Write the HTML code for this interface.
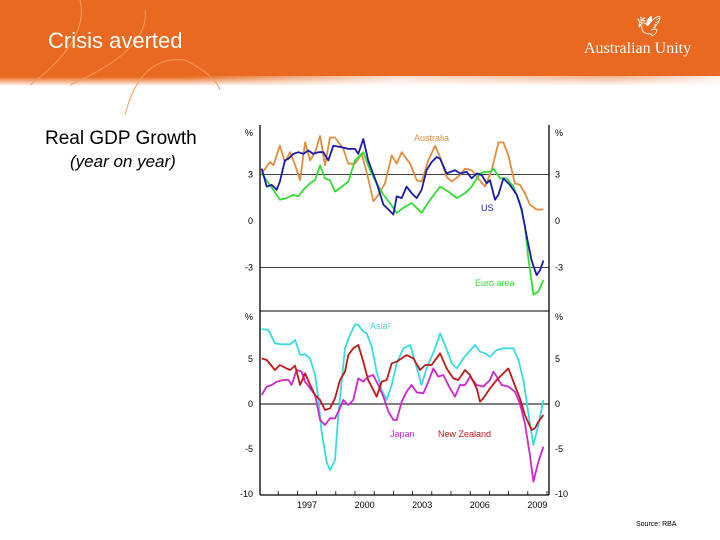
<!DOCTYPE html>
<html><head><meta charset="utf-8"><style>
body{margin:0;width:720px;height:540px;overflow:hidden;background:#fff;font-family:"Liberation Sans",sans-serif;position:relative}
.t{position:absolute;white-space:nowrap}
</style></head><body>
<div style="position:absolute;left:0;top:0;width:720px;height:86px;background:linear-gradient(to bottom,#E8691F 0,#E8691F 77px,rgba(232,105,31,0) 86px)"></div>
<div style="position:absolute;left:0;top:76px;width:720px;height:10px;background:linear-gradient(to right,rgba(255,255,255,0) 0,rgba(255,255,255,0) 25%,rgba(255,255,255,0.8) 55%,rgba(255,255,255,0.5) 85%,rgba(255,255,255,0.9) 100%)"></div>
<svg width="720" height="120" style="position:absolute;left:0;top:0">
<path d="M30,85 Q90,40 80,0" stroke="#f39a5e" stroke-width="1" fill="none"/>
<path d="M70,85 Q150,50 145,10" stroke="#f39a5e" stroke-width="1" fill="none"/>
<path d="M125,115 Q140,55 185,60 Q215,75 220,90" stroke="#f39a5e" stroke-width="1" fill="none"/>
</svg>
<div class="t" style="left:48px;top:28px;font-size:22px;color:#fff">Crisis averted</div>
<div class="t" style="left:636px;top:14px;font-size:20px;color:#fff">🕊︎</div>
<div class="t" style="left:584px;top:40px;font-family:'Liberation Serif',serif;font-size:16px;color:#fff">Australian Unity</div>
<div class="t" style="left:45px;top:128px;font-size:19px;color:#000">Real GDP Growth</div>
<div class="t" style="left:70px;top:152px;font-size:17px;font-style:italic;color:#000">(year on year)</div>
<div class="t" style="left:636px;top:521px;font-size:7px;color:#000">Source: RBA</div>
<svg id="chart" width="720" height="540" style="position:absolute;left:0;top:0" font-family="Liberation Sans, sans-serif"></svg>
<script>
const yearLabels=[1997,2000,2003,2006,2009];
const topTicks=[3,0,-3];
const botTicks=[5,0,-5,-10];
const ausT=[1994.64,1995.07,1995.25,1995.59,1995.85,1996.12,1996.38,1996.64,1996.9,1997.16,1997.42,1997.68,1997.94,1998.2,1998.46,1998.89,1999.15,1999.5,1999.85,2000.19,2000.46,2000.72,2001.06,2001.41,2001.67,2001.93,2002.37,2002.71,2002.97,2003.32,2003.67,2003.93,2004.27,2004.54,2004.97,2005.23,2005.58,2005.92,2006.27,2006.62,2006.97,2007.23,2007.49,2007.83,2008.09,2008.35,2008.61,2008.96,2009.31];
const ausV=[3.07,3.8,3.6,4.86,3.8,4.44,3.6,2.64,5.07,3.91,4.44,5.5,3.6,5.39,5.39,4.65,3.7,3.7,4.33,2.75,1.27,1.69,2.43,4.23,3.7,4.44,3.7,2.64,2.54,3.91,4.86,4.12,2.85,2.54,2.96,3.38,3.28,2.75,2.22,3.28,5.07,5.07,4.23,2.43,2.33,1.8,1.06,0.74,0.74];
const usT=[1994.64,1994.9,1995.16,1995.42,1995.59,1995.85,1996.03,1996.29,1996.55,1996.81,1997.07,1997.33,1997.59,1997.85,1998.11,1998.37,1998.81,1999.15,1999.5,1999.67,1999.93,2000.19,2000.63,2000.98,2001.24,2001.5,2001.67,2001.93,2002.19,2002.45,2002.71,2002.97,2003.23,2003.49,2003.75,2003.93,2004.27,2004.71,2004.97,2005.32,2005.58,2005.84,2006.1,2006.36,2006.53,2006.79,2006.97,2007.23,2007.57,2007.92,2008.18,2008.44,2008.7,2008.96,2009.14,2009.31];
const usV=[3.38,2.22,2.33,2.01,2.54,3.91,4.02,4.33,4.44,4.33,4.55,4.33,4.44,4.44,3.91,4.86,4.76,4.65,4.65,4.33,5.29,3.91,2.43,1.06,0.74,0.42,1.59,1.48,2.22,1.8,1.48,2.01,3.28,3.8,4.12,4.02,3.07,3.28,3.07,3.17,2.75,3.07,2.96,2.43,2.64,1.37,1.69,2.75,2.33,1.69,0.74,-0.95,-2.54,-3.49,-3.17,-2.54];
const euT=[1994.64,1995.07,1995.59,1995.94,1996.29,1996.55,1996.81,1997.16,1997.42,1997.68,1997.94,1998.2,1998.46,1998.81,1999.15,1999.5,1999.93,2000.28,2000.63,2000.98,2001.32,2001.67,2002.02,2002.45,2002.97,2003.41,2003.93,2004.36,2004.8,2005.23,2005.58,2006.01,2006.27,2006.53,2006.71,2007.05,2007.4,2007.75,2008.09,2008.35,2008.53,2008.79,2009.05,2009.31];
const euV=[3.07,2.33,1.37,1.48,1.69,1.59,2.01,2.43,2.64,3.59,2.75,2.64,1.9,2.22,2.54,3.91,4.44,3.28,2.43,1.69,1.16,0.53,0.85,1.16,0.53,1.37,2.22,1.9,1.48,1.8,2.22,3.07,3.17,3.17,3.38,2.75,2.75,2.22,1.16,-0.32,-2.43,-4.76,-4.55,-3.81];
const asiaT=[1994.64,1994.99,1995.33,1995.68,1996.12,1996.38,1996.64,1996.9,1997.16,1997.42,1997.59,1997.76,1998.02,1998.2,1998.46,1998.63,1998.98,1999.24,1999.5,1999.67,1999.93,2000.11,2000.37,2000.63,2000.89,2001.15,2001.41,2001.67,2002.02,2002.37,2002.63,2002.97,2003.23,2003.67,2003.93,2004.19,2004.54,2004.8,2005.14,2005.75,2006.01,2006.27,2006.53,2006.88,2007.23,2007.75,2008.01,2008.27,2008.53,2008.79,2009.05,2009.31];
const asiaV=[8.33,8.22,6.74,6.63,6.63,7.11,5.44,5.52,5.07,3.22,0.63,-3.07,-6.41,-7.33,-6.22,-1.22,6.19,7.67,8.85,8.78,8.04,7.85,6.37,3.59,1.56,0.44,2.11,4.52,6.19,6.56,4.7,2.11,3.96,6.19,7.85,6.56,4.52,3.96,5.07,6.56,5.81,5.63,5.26,6.0,6.19,6.19,4.89,2.67,-1.04,-4.56,-2.33,0.44];
const nzT=[1994.64,1994.9,1995.33,1995.59,1995.94,1996.12,1996.38,1996.64,1996.9,1997.16,1997.42,1997.68,1997.94,1998.2,1998.46,1998.72,1998.98,1999.15,1999.41,1999.67,1999.93,2000.19,2000.63,2000.89,2001.15,2001.41,2001.67,2002.19,2002.54,2002.89,2003.15,2003.49,2003.93,2004.27,2004.62,2004.88,2005.23,2005.49,2005.84,2006.01,2006.18,2006.53,2006.88,2007.23,2007.49,2007.75,2008.09,2008.35,2008.7,2008.87,2009.05,2009.31];
const nzV=[5.07,4.89,3.78,4.33,3.96,3.78,4.26,2.11,3.41,2.11,1.0,0.44,-0.67,-0.48,0.63,2.67,3.59,5.44,6.19,6.56,4.7,2.67,0.81,2.48,2.67,4.52,4.7,5.44,5.07,3.78,4.33,4.33,5.63,3.96,2.85,2.67,3.78,3.22,1.74,0.26,0.63,1.74,2.67,3.41,3.96,2.48,0.63,-1.22,-2.89,-2.7,-1.96,-1.22];
const jpT=[1994.64,1994.9,1995.16,1995.42,1995.77,1996.03,1996.2,1996.46,1996.72,1996.9,1997.16,1997.42,1997.68,1997.94,1998.2,1998.46,1998.72,1998.89,1999.15,1999.41,1999.67,1999.93,2000.19,2000.45,2000.71,2000.98,2001.24,2001.5,2001.67,2001.93,2002.19,2002.45,2002.71,2003.06,2003.32,2003.58,2003.84,2004.1,2004.45,2004.71,2004.97,2005.23,2005.49,2005.84,2006.18,2006.53,2006.71,2006.88,2007.14,2007.49,2007.83,2008.09,2008.35,2008.61,2008.79,2009.05,2009.31];
const jpV=[1.0,1.93,2.11,2.48,2.67,2.67,2.11,3.78,3.59,2.48,1.74,1.0,-1.78,-2.33,-1.59,-1.59,-0.48,0.44,-0.11,0.44,2.85,2.48,3.04,3.22,2.11,0.81,-0.85,-1.78,-1.78,0.26,1.37,2.11,1.3,1.19,2.48,3.96,3.04,3.22,1.74,0.81,2.11,2.11,3.04,2.11,1.93,2.67,3.59,3.04,2.11,1.93,1.37,0.07,-2.15,-5.67,-8.63,-6.41,-4.74];

const svg=document.getElementById('chart');
const NS='http://www.w3.org/2000/svg';
const L=260,R=549;
function xs(t){return 307+(t-1997)*19.2;}
function yTop(v){return 221-v*15.5;}
function yBot(v){return 404-v*9;}
function mk(tag,attrs,parent){const e=document.createElementNS(NS,tag);for(const k in attrs)e.setAttribute(k,attrs[k]);(parent||svg).appendChild(e);return e;}
function txt(x,y,s,color,anchor,size){const e=mk('text',{x:x,y:y,fill:color,'font-size':size||9,'text-anchor':anchor||'start'});e.textContent=s;return e;}

let e;
e=mk('line',{x1:L,y1:125,x2:L,y2:495,stroke:'#000','stroke-width':1.3});


e=mk('line',{x1:R,y1:125,x2:R,y2:495,stroke:'#000','stroke-width':1.3});


e=mk('line',{x1:L,y1:311,x2:R,y2:311,stroke:'#000','stroke-width':1});


e=mk('line',{x1:L,y1:495,x2:R,y2:495,stroke:'#000','stroke-width':1.3});



topTicks.forEach(v=>{
  if(v!==0){e=mk('line',{x1:L,y1:yTop(v),x2:R,y2:yTop(v),stroke:'#000','stroke-width':0.8});
  
  }
  e=txt(253,yTop(v)+3,String(v),'#000','end');
  
  
  e=txt(555,yTop(v)+3,String(v),'#000','start');
  
  
});
botTicks.forEach(v=>{
  if(v===0){e=mk('line',{x1:L,y1:yBot(v),x2:R,y2:yBot(v),stroke:'#000','stroke-width':1});
  
  }
  e=txt(253,yBot(v)+3,String(v),'#000','end');
  
  
  e=txt(555,yBot(v)+3,String(v),'#000','start');
  
  
});
[[253,'end'],[555,'start']].forEach(p=>{
  e=txt(p[0],136,'%','#000',p[1]);
  
  
  e=txt(p[0],320,'%','#000',p[1]);
  
  
});
for(let y=1995;y<=2010;y++){
  const x=xs(y-0.5);
  if(x<L||x>R)continue;
  e=mk('line',{x1:x,y1:495,x2:x,y2:491,stroke:'#000','stroke-width':0.8});
  
  
}
yearLabels.forEach(y=>{
  e=txt(xs(y),508,String(y),'#000','middle');
  
  
});

function line(T,V,yf,color,name){
  const d=T.map((t,i)=>(i?'L':'M')+xs(t).toFixed(1)+','+yf(V[i]).toFixed(1)).join(' ');
  const p=mk('path',{d:d,stroke:color,'stroke-width':1.8,fill:'none','stroke-linejoin':'round'});
  
  
}
line(ausT,ausV,yTop,'#E38B3F','australia-line');
line(euT,euV,yTop,'#33DD33','euro-area-line');
line(usT,usV,yTop,'#1A1AA8','us-line');
line(asiaT,asiaV,yBot,'#38DCDC','asia-line');
line(jpT,jpV,yBot,'#CC28CC','japan-line');
line(nzT,nzV,yBot,'#C01818','new-zealand-line');

e=txt(414,141,'Australia','#E38B3F');


e=txt(481,211,'US','#1A1AA8');


e=txt(475,286,'Euro area','#33DD33');


e=txt(370,329,'Asia¹','#38DCDC');


e=txt(390,437,'Japan','#CC28CC');


e=txt(438,437,'New Zealand','#C01818');


</script>
</body></html>
